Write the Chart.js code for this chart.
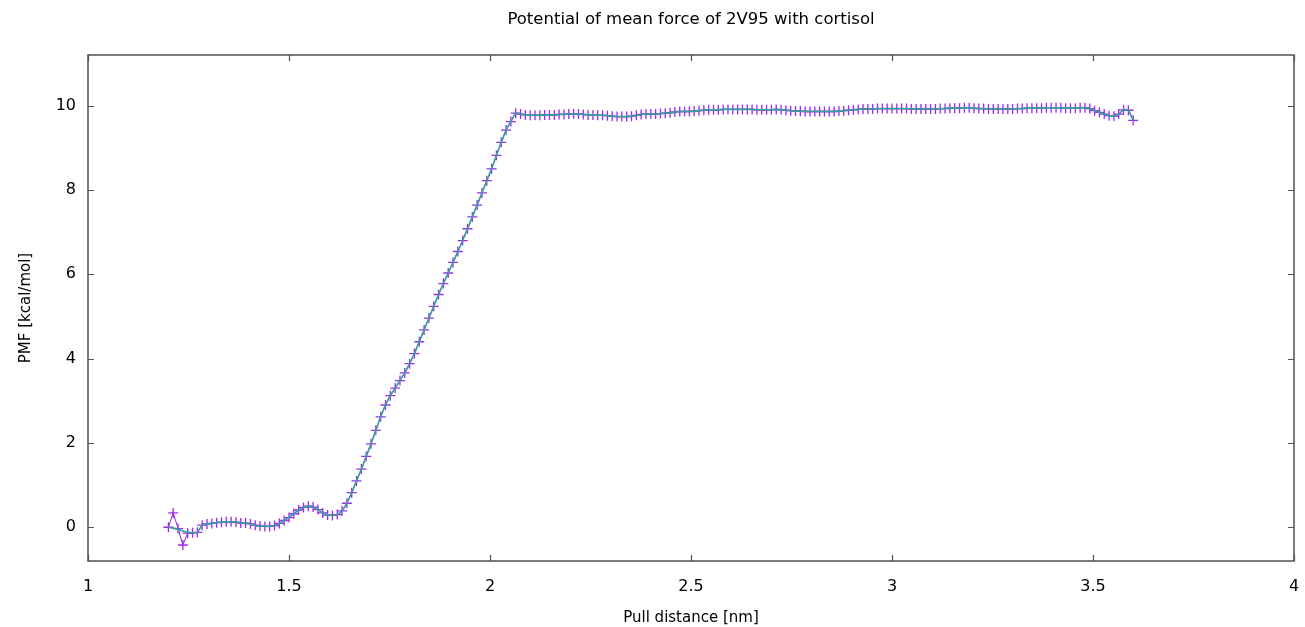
<!DOCTYPE html>
<html><head><meta charset="utf-8">
<script src="https://cdn.jsdelivr.net/npm/chart.js@4/dist/chart.umd.min.js"></script>
<style>html,body{margin:0;padding:0;background:#fff;}canvas{display:block;}</style>
</head><body>
<canvas id="c" width="1305" height="627"></canvas>
<script>
const chartTitle = 'Potential of mean force of 2V95 with cortisol';
const pullDistance = [
  1.200,1.212,1.224,1.236,1.248,1.260,1.272,1.284,1.296,1.308,
  1.320,1.332,1.344,1.356,1.368,1.380,1.392,1.404,1.416,1.428,
  1.440,1.452,1.464,1.476,1.488,1.500,1.512,1.524,1.536,1.548,
  1.560,1.572,1.584,1.596,1.608,1.620,1.632,1.644,1.656,1.668,
  1.680,1.692,1.704,1.716,1.728,1.740,1.752,1.764,1.776,1.788,
  1.800,1.812,1.824,1.836,1.848,1.860,1.872,1.884,1.896,1.908,
  1.920,1.932,1.944,1.956,1.968,1.980,1.992,2.004,2.016,2.028,
  2.040,2.052,2.064,2.076,2.088,2.100,2.112,2.124,2.136,2.148,
  2.160,2.172,2.184,2.196,2.208,2.220,2.232,2.244,2.256,2.268,
  2.280,2.292,2.304,2.316,2.328,2.340,2.352,2.364,2.376,2.388,
  2.400,2.412,2.424,2.436,2.448,2.460,2.472,2.484,2.496,2.508,
  2.520,2.532,2.544,2.556,2.568,2.580,2.592,2.604,2.616,2.628,
  2.640,2.652,2.664,2.676,2.688,2.700,2.712,2.724,2.736,2.748,
  2.760,2.772,2.784,2.796,2.808,2.820,2.832,2.844,2.856,2.868,
  2.880,2.892,2.904,2.916,2.928,2.940,2.952,2.964,2.976,2.988,
  3.000,3.012,3.024,3.036,3.048,3.060,3.072,3.084,3.096,3.108,
  3.120,3.132,3.144,3.156,3.168,3.180,3.192,3.204,3.216,3.228,
  3.240,3.252,3.264,3.276,3.288,3.300,3.312,3.324,3.336,3.348,
  3.360,3.372,3.384,3.396,3.408,3.420,3.432,3.444,3.456,3.468,
  3.480,3.492,3.504,3.516,3.528,3.540,3.552,3.564,3.576,3.588,
  3.600
];
const pmf = [
  0.00,0.34,-0.03,-0.42,-0.14,-0.13,-0.12,0.05,0.08,0.09,
  0.11,0.12,0.13,0.13,0.12,0.10,0.10,0.08,0.05,0.03,
  0.02,0.02,0.04,0.09,0.16,0.23,0.32,0.41,0.47,0.50,
  0.48,0.42,0.34,0.29,0.28,0.30,0.39,0.57,0.82,1.10,
  1.38,1.68,1.98,2.30,2.62,2.90,3.12,3.30,3.48,3.66,
  3.88,4.12,4.40,4.68,4.96,5.24,5.52,5.78,6.03,6.28,
  6.54,6.80,7.08,7.36,7.64,7.93,8.22,8.50,8.82,9.13,
  9.42,9.62,9.82,9.80,9.78,9.77,9.77,9.77,9.78,9.78,
  9.78,9.79,9.79,9.80,9.80,9.80,9.79,9.78,9.78,9.77,
  9.77,9.76,9.75,9.74,9.74,9.74,9.75,9.77,9.79,9.80,
  9.80,9.80,9.81,9.82,9.83,9.85,9.86,9.86,9.86,9.87,
  9.88,9.89,9.90,9.90,9.90,9.91,9.91,9.91,9.91,9.91,
  9.91,9.91,9.90,9.90,9.90,9.90,9.91,9.90,9.89,9.88,
  9.87,9.87,9.86,9.86,9.86,9.86,9.86,9.86,9.86,9.87,
  9.88,9.89,9.90,9.91,9.92,9.92,9.92,9.93,9.93,9.93,
  9.93,9.93,9.93,9.93,9.92,9.92,9.92,9.92,9.92,9.92,
  9.93,9.93,9.94,9.94,9.94,9.95,9.95,9.94,9.93,9.93,
  9.92,9.92,9.92,9.92,9.92,9.92,9.93,9.93,9.94,9.94,
  9.94,9.94,9.95,9.95,9.95,9.95,9.94,9.94,9.94,9.95,
  9.95,9.93,9.88,9.84,9.80,9.76,9.75,9.80,9.90,9.89,
  9.65
];
// smoothed curve differs from raw PMF only in the first few windows
const pmfSmoothHead = [0.00,-0.02,-0.05,-0.09,-0.12,-0.13,-0.12];
const xTicks = [1, 1.5, 2, 2.5, 3, 3.5, 4];
const yTicks = [0, 2, 4, 6, 8, 10];

const rawPts = pullDistance.map((x, i) => ({x, y: pmf[i]}));
const smoothVals = pmfSmoothHead.concat(pmf.slice(pmfSmoothHead.length));
const smoothPts = pullDistance.map((x, i) => ({x, y: smoothVals[i]}));

const frame = {
  id: 'frame',
  afterDatasetsDraw(chart) {
    const {ctx, chartArea: a, scales: {x, y}} = chart;
    ctx.save();
    ctx.strokeStyle = '#505050';
    ctx.lineWidth = 1.5;
    ctx.strokeRect(a.left, a.top, a.right - a.left, a.bottom - a.top);
    ctx.lineWidth = 1.2;
    const L = 6;
    ctx.beginPath();
    x.ticks.forEach(t => {
      const p = Math.round(x.getPixelForValue(t.value)) + 0.5;
      ctx.moveTo(p, a.bottom); ctx.lineTo(p, a.bottom - L);
      ctx.moveTo(p, a.top); ctx.lineTo(p, a.top + L);
    });
    y.ticks.forEach(t => {
      const p = Math.round(y.getPixelForValue(t.value)) + 0.5;
      ctx.moveTo(a.left, p); ctx.lineTo(a.left + L, p);
      ctx.moveTo(a.right, p); ctx.lineTo(a.right - L, p);
    });
    ctx.stroke();
    // chart title, centred over the plot area
    ctx.fillStyle = '#000';
    ctx.font = '16.5px "DejaVu Sans"';
    ctx.textAlign = 'center';
    ctx.textBaseline = 'middle';
    ctx.fillText(chartTitle, (a.left + a.right) / 2, 20);
    ctx.restore();
  }
};

const fontTick = {family: 'DejaVu Sans', size: 16};
const fontTitle = {family: 'DejaVu Sans', size: 15};

new Chart(document.getElementById('c'), {
  type: 'line',
  data: {
    datasets: [
      {
        label: 'smoothed',
        data: smoothPts,
        borderColor: '#2fa596',
        borderWidth: 1.6,
        pointRadius: 0,
        tension: 0.2,
        fill: false,
        order: 0
      },
      {
        label: 'PMF',
        data: rawPts,
        borderColor: '#9420e0',
        borderWidth: 1,
        pointStyle: 'cross',
        pointRadius: 5,
        pointBorderWidth: 1.3,
        pointBorderColor: '#a028f0',
        tension: 0,
        fill: false,
        order: 1
      }
    ]
  },
  options: {
    responsive: false,
    animation: false,
    devicePixelRatio: 1,
    layout: {padding: {left: 0, right: 11, top: 55, bottom: 0}},
    plugins: {
      legend: {display: false},
      tooltip: {enabled: false},
      title: {display: false}
    },
    scales: {
      x: {
        type: 'linear', min: 1, max: 4,
        afterBuildTicks: s => { s.ticks = xTicks.map(v => ({value: v})); },
        afterFit: s => { s.height = 66; s.paddingLeft = 0; s.paddingRight = 0; },
        grid: {display: false, drawTicks: false},
        border: {display: false},
        ticks: {padding: 16, color: '#000', font: fontTick, maxRotation: 0, autoSkip: false,
                callback: v => String(v)},
        title: {display: true, text: 'Pull distance [nm]', color: '#000', font: fontTitle,
                padding: {top: 0, bottom: 0}}
      },
      y: {
        type: 'linear', min: -0.8, max: 11.2,
        afterBuildTicks: s => { s.ticks = yTicks.map(v => ({value: v})); },
        afterFit: s => { s.width = 88; s.paddingTop = 0; s.paddingBottom = 0; },
        grid: {display: false, drawTicks: false},
        border: {display: false},
        ticks: {padding: 12, color: '#000', font: fontTick, callback: v => String(v)},
        title: {display: true, text: 'PMF [kcal/mol]', color: '#000', font: fontTitle,
                padding: {top: 17, bottom: 0}}
      }
    }
  },
  plugins: [frame]
});
</script>
</body></html>
